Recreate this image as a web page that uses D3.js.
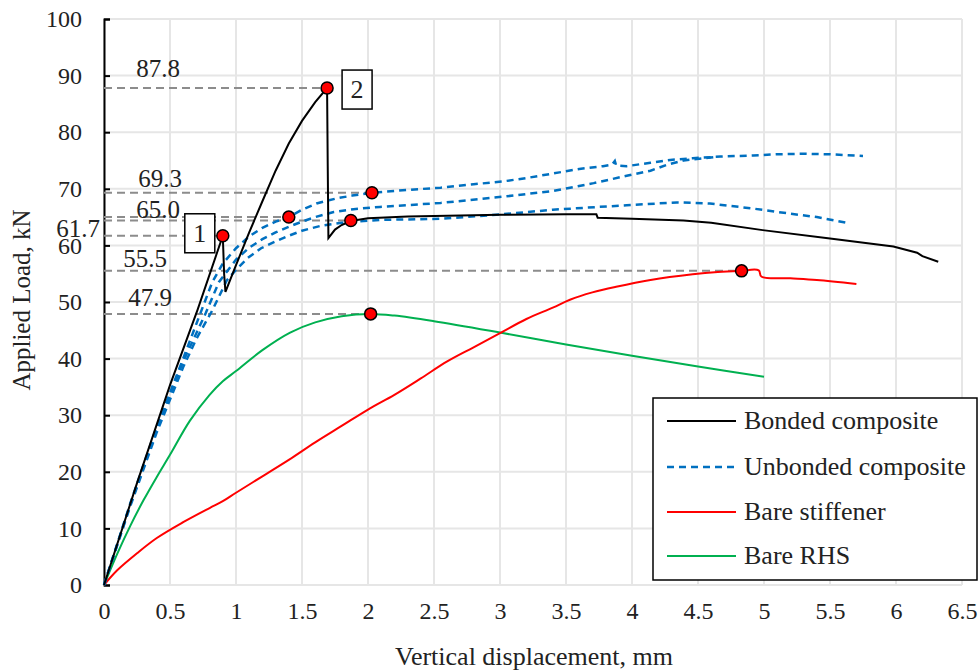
<!DOCTYPE html>
<html><head><meta charset="utf-8">
<script src="https://cdn.jsdelivr.net/npm/d3@7"></script>
<style>body{margin:0;background:#fff}svg{display:block}text{font-family:"Liberation Serif","Times New Roman",serif;fill:#222}</style>
</head><body>
<script>
const xTicks = [0,0.5,1,1.5,2,2.5,3,3.5,4,4.5,5,5.5,6,6.5];
const xTickLabels = ["0","0.5","1","1.5","2","2.5","3","3.5","4","4.5","5","5.5","6","6.5"];
const yTicks = [0,10,20,30,40,50,60,70,80,90,100];

const bonded = [[0,0],[0.25,18],[0.5,35.3],[0.71,48.7],[0.9,61.7],[0.91,55],[0.92,51.8],[1.0,56.5],[1.1,62.3],[1.2,67.8],[1.3,73.2],[1.4,78.0],[1.5,82.0],[1.6,85.3],[1.69,87.8],[1.695,74],[1.70,61.3],[1.75,62.8],[1.8,63.6],[1.87,64.3],[2.0,64.8],[2.3,65.1],[3.0,65.4],[3.5,65.5],[3.73,65.5],[3.74,64.9],[4.0,64.7],[4.39,64.4],[4.6,64.0],[4.99,62.7],[5.5,61.2],[5.98,59.8],[6.16,58.7],[6.2,58.1],[6.32,57.1]];

const unbonded1 = [[0,0],[0.2,14.5],[0.4,28],[0.6,40],[0.73,48],[0.82,53.5],[0.9,56.8],[1.0,59.5],[1.1,61.6],[1.2,63.1],[1.3,64.2],[1.4,65.0],[1.5,66.3],[1.61,67.4],[1.76,68.3],[1.88,68.8],[2.03,69.3],[2.3,69.8],[2.55,70.2],[2.8,70.8],[3.02,71.3],[3.2,71.9],[3.45,72.9],[3.6,73.5],[3.78,74.0],[3.85,74.3],[3.87,74.9],[3.88,74.1],[3.96,74.0],[4.14,74.6],[4.29,75.1],[4.46,75.4],[4.67,75.7],[4.92,75.9],[5.1,76.1],[5.3,76.2],[5.5,76.1],[5.75,75.8]];
const unbonded2 = [[0,0],[0.2,14.3],[0.4,27.5],[0.6,39.5],[0.77,48],[0.87,53.5],[1.0,57.5],[1.1,59.6],[1.2,61.1],[1.3,62.3],[1.4,63.3],[1.5,64.2],[1.6,65.0],[1.74,65.9],[1.89,66.4],[2.09,66.8],[2.55,67.5],[3.02,68.6],[3.4,69.6],[3.71,71.0],[3.96,72.3],[4.14,73.2],[4.26,74.2],[4.39,75.0],[4.51,75.3],[4.62,75.6]];
const unbonded3 = [[0,0],[0.2,14],[0.4,27],[0.6,38.5],[0.7,43.5],[0.82,48.5],[0.93,53.8],[1.0,55.7],[1.09,57.8],[1.19,59.5],[1.3,60.7],[1.4,61.7],[1.5,62.6],[1.65,63.5],[1.8,64.0],[2.09,64.5],[2.55,64.7],[2.97,65.4],[3.4,66.3],[3.96,67.1],[4.34,67.6],[4.59,67.4],[4.92,66.5],[5.2,65.6],[5.4,65.0],[5.65,63.9]];

const bareStiffener = [[0,0],[0.1,2.6],[0.25,5.6],[0.4,8.3],[0.6,11.1],[0.8,13.6],[0.9,14.8],[1.0,16.3],[1.2,19.2],[1.4,22.1],[1.6,25.2],[1.8,28.1],[2.0,31],[2.2,33.6],[2.4,36.5],[2.6,39.5],[2.8,42],[3.0,44.5],[3.2,47],[3.4,49],[3.53,50.4],[3.7,51.7],[3.88,52.7],[4.14,53.9],[4.46,54.9],[4.65,55.3],[4.82,55.5],[4.96,55.6],[4.98,54.5],[5.2,54.2],[5.4,53.9],[5.7,53.2]];

const bareRHS = [[0,0],[0.1,5.5],[0.2,10.5],[0.3,15],[0.4,19.1],[0.5,23],[0.65,29],[0.8,33.6],[0.9,36],[1.0,37.8],[1.2,41.5],[1.41,44.6],[1.6,46.4],[1.8,47.5],[2.02,47.9],[2.2,47.6],[2.5,46.6],[3.0,44.6],[3.5,42.5],[4.0,40.5],[4.5,38.6],[5.0,36.8]];

const peakPoints = [[0.9,61.7],[1.69,87.8],[1.4,65.0],[2.03,69.3],[1.87,64.4],[4.83,55.5],[2.02,47.9]];
const refLabels = ["61.7","87.8","65.0","69.3","",  "55.5","47.9"];
const seriesNames = ["Bonded composite","Unbonded composite","Bare stiffener","Bare RHS"];
const seriesColors = ["#000000","#0070C0","#FF0000","#00B050"];
const boxLabels = [["1",0.9,61.7],["2",1.69,87.8]];

const W = 980, H = 671;
const svg = d3.select("body").append("svg").attr("width",W).attr("height",H);
const x = d3.scaleLinear().domain([0,6.5]).range([104,962]);
const y = d3.scaleLinear().domain([0,100]).range([585,19]);

// grid
const g = svg.append("g");
g.selectAll("line.vx").data(xTicks).enter().append("line")
  .attr("x1",d=>x(d)).attr("x2",d=>x(d)).attr("y1",y(0)).attr("y2",y(100))
  .attr("stroke","#e6e6e6").attr("stroke-width",2);
g.selectAll("line.hy").data(yTicks).enter().append("line")
  .attr("x1",x(0)).attr("x2",x(6.5)).attr("y1",d=>y(d)).attr("y2",d=>y(d))
  .attr("stroke","#e6e6e6").attr("stroke-width",2);

// y axis
const yAxis = d3.axisLeft(y).tickValues(yTicks).tickSize(-6).tickPadding(22);
const ya = svg.append("g").attr("transform",`translate(${x(0)},0)`).call(yAxis);
ya.select(".domain").attr("stroke","#000").attr("stroke-width",2);
ya.selectAll(".tick line").attr("stroke","#000").attr("stroke-width",2);
ya.selectAll(".tick text").style("font-size","24px").attr("fill","#222");

// x axis labels (no line)
const xAxis = d3.axisBottom(x).tickValues(xTicks).tickFormat((d,i)=>xTickLabels[i]).tickSize(0).tickPadding(17);
const xa = svg.append("g").attr("transform",`translate(0,${y(0)})`).call(xAxis);
xa.select(".domain").remove();
xa.selectAll(".tick text").style("font-size","24px").attr("fill","#222");

// reference dashed lines
svg.append("g").selectAll("line").data(peakPoints).enter().append("line")
  .attr("x1",x(0)).attr("x2",d=>x(d[0])).attr("y1",d=>y(d[1])).attr("y2",d=>y(d[1]))
  .attr("stroke","#8c8c8c").attr("stroke-width",2).attr("stroke-dasharray","8,5");

const lineLin = d3.line().x(d=>x(d[0])).y(d=>y(d[1]));
const lineSmooth = d3.line().x(d=>x(d[0])).y(d=>y(d[1])).curve(d3.curveCatmullRom.alpha(0.5));

svg.append("path").datum(bareRHS).attr("d",lineSmooth).attr("fill","none").attr("stroke",seriesColors[3]).attr("stroke-width",2);
svg.append("path").datum(bareStiffener).attr("d",lineSmooth).attr("fill","none").attr("stroke",seriesColors[2]).attr("stroke-width",2);
[unbonded3,unbonded2,unbonded1].forEach(s=>{
  svg.append("path").datum(s).attr("d",lineLin).attr("fill","none").attr("stroke",seriesColors[1]).attr("stroke-width",2.5).attr("stroke-dasharray","7,5");
});
svg.append("path").datum(bonded).attr("d",lineLin).attr("fill","none").attr("stroke",seriesColors[0]).attr("stroke-width",2);

// dots
svg.append("g").selectAll("circle").data(peakPoints).enter().append("circle")
  .attr("cx",d=>x(d[0])).attr("cy",d=>y(d[1])).attr("r",6)
  .attr("fill","#FF0000").attr("stroke","#000").attr("stroke-width",1.5);

// value labels
const labelPos = {"87.8":[158,-11],"69.3":[160,-6],"65.0":[158,1],"61.7":[78,1],"55.5":[145,-4],"47.9":[150,-8]};
peakPoints.forEach((p,i)=>{
  const t = refLabels[i]; if(!t) return;
  svg.append("text").attr("x",labelPos[t][0]).attr("y",y(p[1])+labelPos[t][1])
    .attr("text-anchor","middle").style("font-size","25px").text(t);
});

// numbered boxes
const boxOff = {"1":[-23,-3],"2":[30,1]};
boxLabels.forEach(b=>{
  const cx = x(b[1])+boxOff[b[0]][0], cy = y(b[2])+boxOff[b[0]][1];
  svg.append("rect").attr("x",cx-15).attr("y",cy-19).attr("width",30).attr("height",39)
    .attr("fill","#fff").attr("stroke","#000").attr("stroke-width",1.5);
  svg.append("text").attr("x",cx).attr("y",cy+9).attr("text-anchor","middle").style("font-size","26px").text(b[0]);
});

// axis titles
svg.append("text").attr("x",534).attr("y",665).attr("text-anchor","middle").style("font-size","26px").text("Vertical displacement, mm");
svg.append("text").attr("transform","translate(30,300) rotate(-90)").attr("text-anchor","middle").style("font-size","25px").text("Applied Load, kN");

// legend
const lg = svg.append("g");
lg.append("rect").attr("x",653).attr("y",398).attr("width",324).attr("height",182).attr("fill","#fff").attr("stroke","#000").attr("stroke-width",1.5);
const rowsY = [421,467,512,556];
seriesNames.forEach((n,i)=>{
  const ln = lg.append("line").attr("x1",667).attr("x2",736).attr("y1",rowsY[i]).attr("y2",rowsY[i]).attr("stroke",seriesColors[i]).attr("stroke-width",i===1?2.5:2);
  if(i===1) ln.attr("stroke-dasharray","7,5");
  lg.append("text").attr("x",744).attr("y",rowsY[i]+8).style("font-size","26px").text(n);
});
</script>
</body></html>
